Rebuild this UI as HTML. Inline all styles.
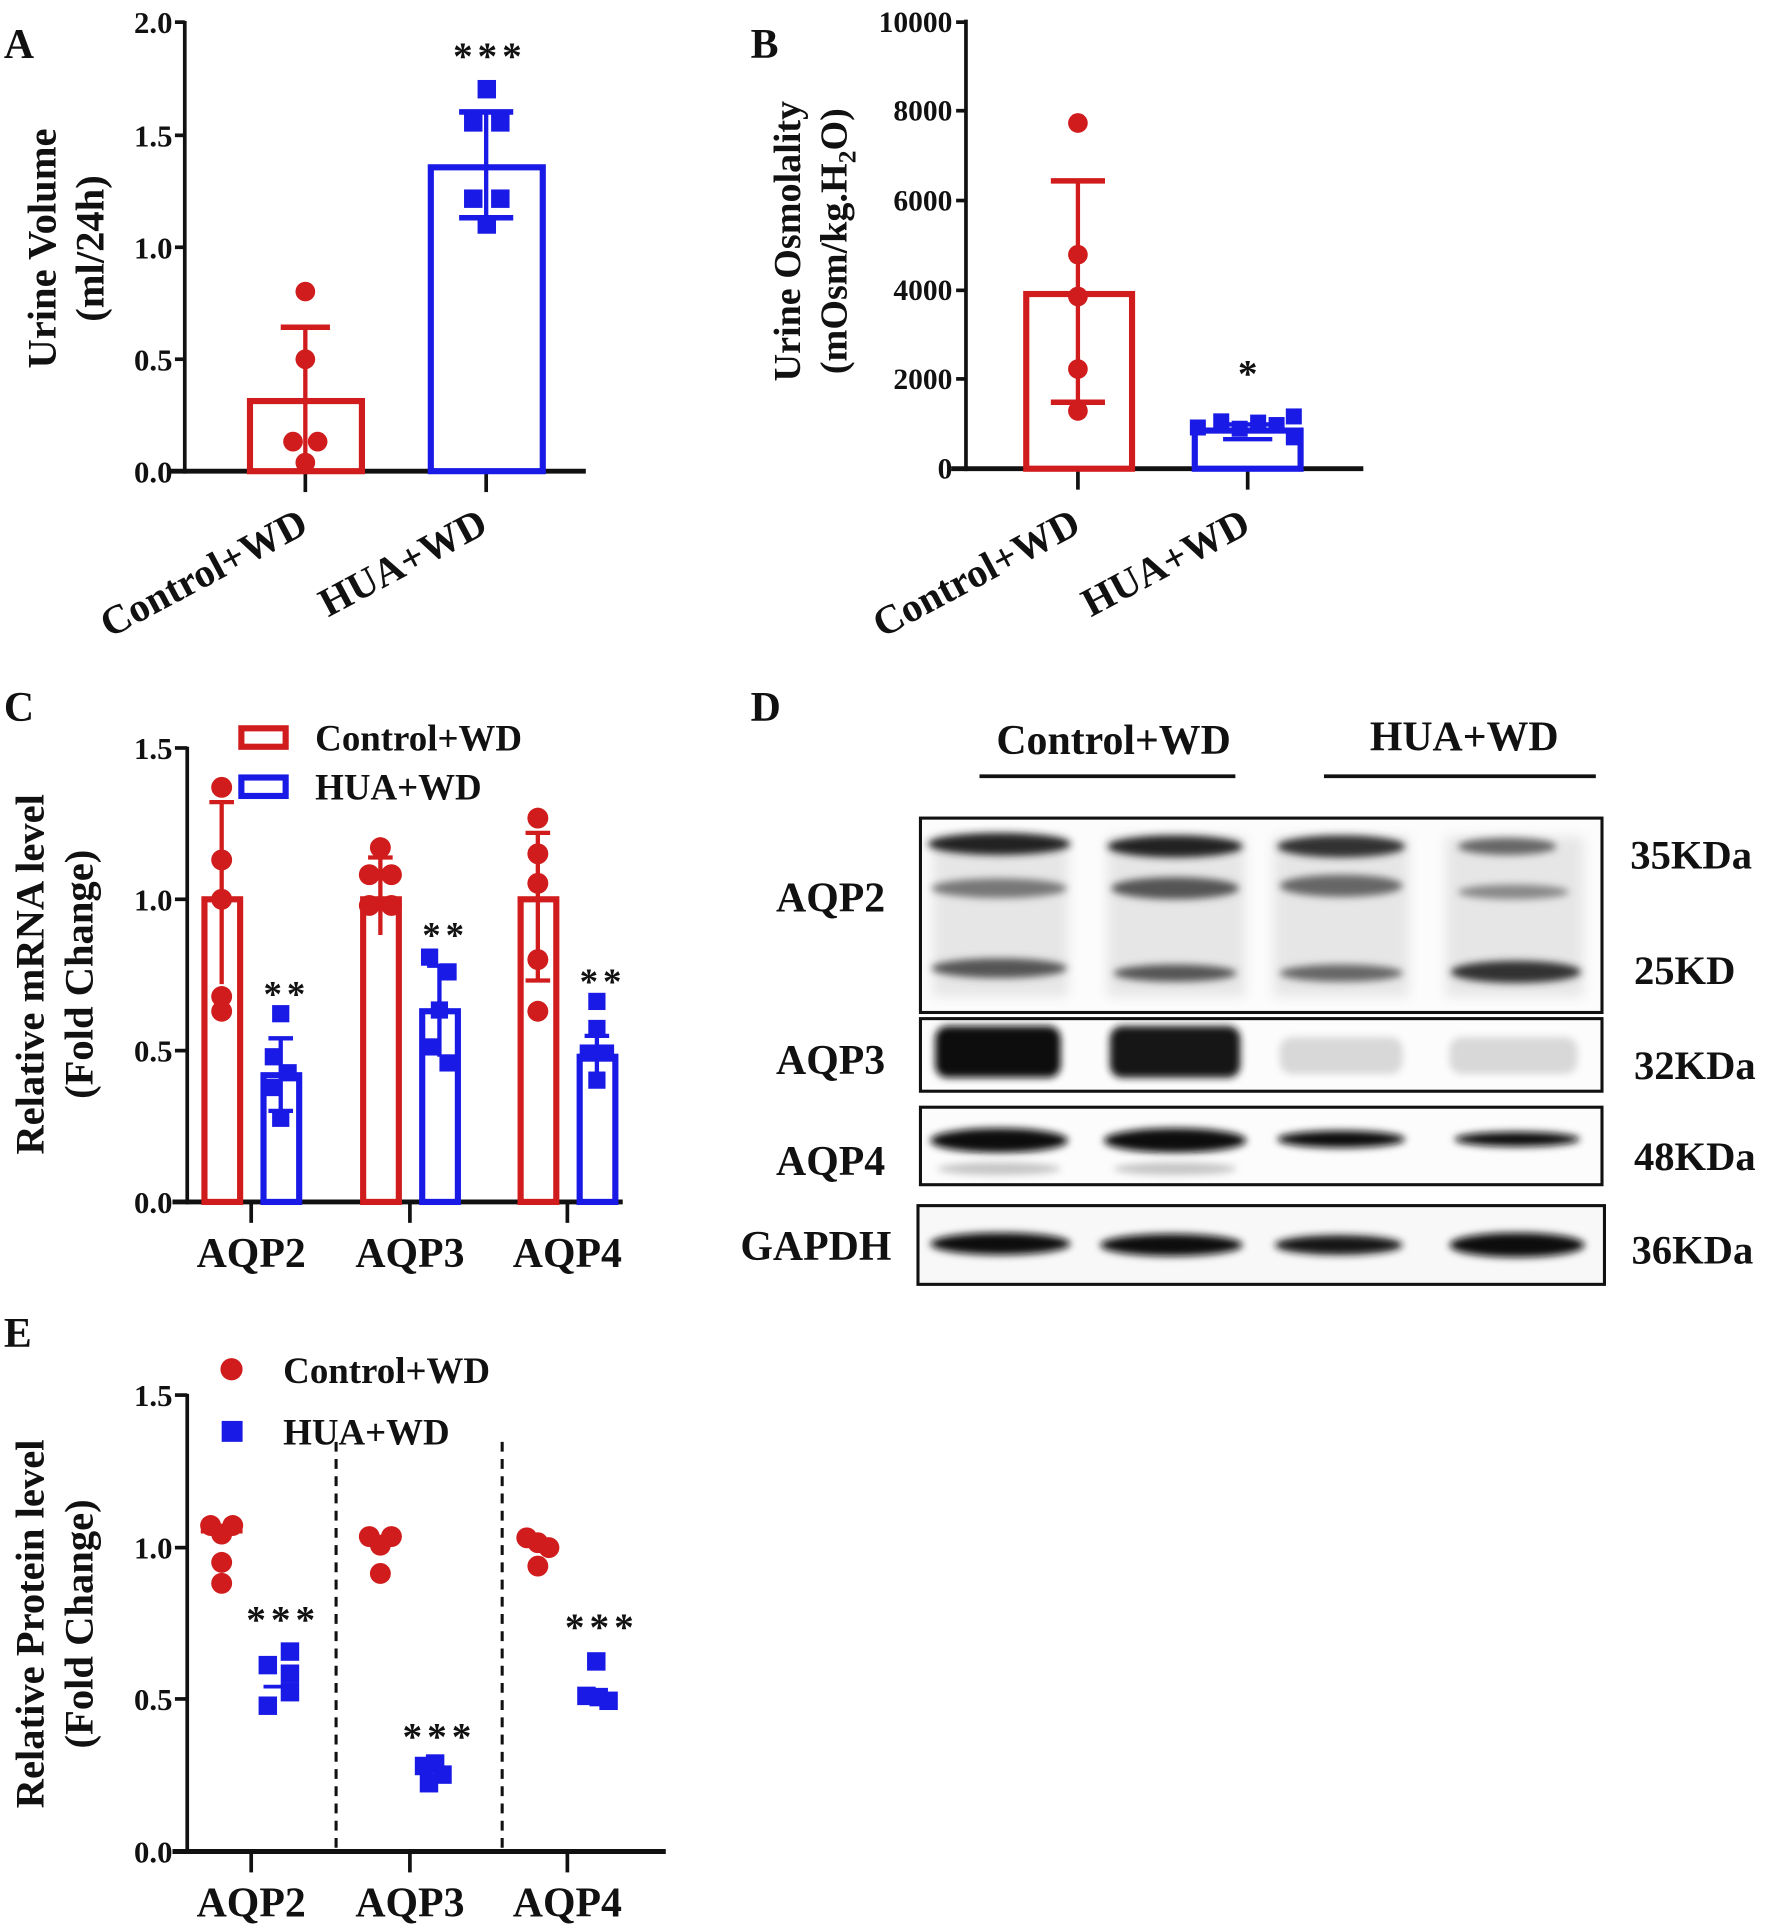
<!DOCTYPE html>
<html><head><meta charset="utf-8"><style>
html,body{margin:0;padding:0;background:#fff;}
svg{display:block;}
text{font-family:"Liberation Serif",serif;font-weight:bold;fill:#111;}
</style></head><body>
<svg width="1772" height="1929" viewBox="0 0 1440 1568" xmlns="http://www.w3.org/2000/svg">
<defs>
<filter id="bl" x="-30%" y="-100%" width="160%" height="300%"><feGaussianBlur stdDeviation="5"/></filter>
<filter id="bl2" x="-30%" y="-100%" width="160%" height="300%"><feGaussianBlur stdDeviation="3"/></filter>
</defs>
<!-- Panel letters -->
<text x="3" y="47" font-size="34">A</text>
<text x="610" y="47" font-size="34">B</text>
<text x="3" y="586" font-size="34">C</text>
<text x="610" y="586" font-size="34">D</text>
<text x="3" y="1095" font-size="34">E</text>

<!-- ===== Panel A ===== -->
<g stroke="#111" stroke-width="3" fill="none">
<line x1="150" y1="17" x2="150" y2="385"/>
<line x1="138" y1="383" x2="476" y2="383" stroke-width="4"/>
<line x1="142" y1="18" x2="150" y2="18"/><line x1="142" y1="110" x2="150" y2="110"/>
<line x1="142" y1="201" x2="150" y2="201"/><line x1="142" y1="292" x2="150" y2="292"/>
<line x1="248" y1="383" x2="248" y2="400"/><line x1="395" y1="383" x2="395" y2="400"/>
</g>
<g font-size="25" text-anchor="end">
<text x="140" y="27">2.0</text><text x="140" y="119">1.5</text><text x="140" y="210">1.0</text><text x="140" y="301">0.5</text><text x="140" y="392">0.0</text>
</g>
<text transform="translate(45,202) rotate(-90)" font-size="33" text-anchor="middle">Urine Volume</text>
<text transform="translate(84,202) rotate(-90)" font-size="33" text-anchor="middle">(ml/24h)</text>
<rect x="203" y="326" width="91" height="57" fill="none" stroke="#d01c1c" stroke-width="5"/>
<g stroke="#d01c1c" stroke-width="3.5"><line x1="248" y1="266" x2="248" y2="383"/><line x1="228" y1="266" x2="268" y2="266" stroke-width="4.5"/></g>
<g fill="#d01c1c"><circle cx="248" cy="237" r="8"/><circle cx="248" cy="292" r="8"/><circle cx="238" cy="359" r="8"/><circle cx="258" cy="359" r="8"/><circle cx="248" cy="376" r="8"/></g>
<rect x="350" y="136" width="91" height="247" fill="none" stroke="#1a1ae6" stroke-width="5"/>
<g stroke="#1a1ae6" stroke-width="3.5"><line x1="395" y1="91" x2="395" y2="177"/><line x1="373" y1="91" x2="417" y2="91" stroke-width="4.5"/><line x1="373" y1="177" x2="417" y2="177" stroke-width="4.5"/></g>
<g fill="#1a1ae6"><rect x="388" y="65" width="15" height="15"/><rect x="377" y="92" width="15" height="15"/><rect x="399" y="92" width="15" height="15"/><rect x="377" y="154" width="15" height="15"/><rect x="399" y="154" width="15" height="15"/><rect x="388" y="175" width="15" height="15"/></g>
<text x="398" y="56" font-size="32" text-anchor="middle" letter-spacing="4">***</text>
<text transform="translate(252,432) rotate(-28)" font-size="33" text-anchor="end">Control+WD</text>
<text transform="translate(398,432) rotate(-28)" font-size="33" text-anchor="end">HUA+WD</text>

<!-- ===== Panel B ===== -->
<g stroke="#111" stroke-width="3" fill="none">
<line x1="785" y1="16" x2="785" y2="383"/>
<line x1="773" y1="381" x2="1108" y2="381" stroke-width="4"/>
<line x1="777" y1="18" x2="785" y2="18"/><line x1="777" y1="90" x2="785" y2="90"/><line x1="777" y1="163" x2="785" y2="163"/><line x1="777" y1="236" x2="785" y2="236"/><line x1="777" y1="308" x2="785" y2="308"/>
<line x1="876" y1="381" x2="876" y2="398"/><line x1="1014" y1="381" x2="1014" y2="398"/>
</g>
<g font-size="24" text-anchor="end">
<text x="774" y="26">10000</text><text x="774" y="98">8000</text><text x="774" y="171">6000</text><text x="774" y="244">4000</text><text x="774" y="316">2000</text><text x="774" y="389">0</text>
</g>
<text transform="translate(650,196) rotate(-90)" font-size="31" text-anchor="middle">Urine Osmolality</text>
<text transform="translate(688,196) rotate(-90)" font-size="31" text-anchor="middle">(mOsm/kg.H<tspan font-size="21" dy="7">2</tspan><tspan dy="-7">O)</tspan></text>
<rect x="834" y="239" width="86" height="142" fill="none" stroke="#d01c1c" stroke-width="5"/>
<g stroke="#d01c1c" stroke-width="3.5"><line x1="876" y1="147" x2="876" y2="327"/><line x1="854" y1="147" x2="898" y2="147" stroke-width="4.5"/><line x1="854" y1="327" x2="898" y2="327" stroke-width="4.5"/></g>
<g fill="#d01c1c"><circle cx="876" cy="100" r="8"/><circle cx="876" cy="207" r="8"/><circle cx="876" cy="241" r="8"/><circle cx="876" cy="300" r="8"/><circle cx="876" cy="334" r="8"/></g>
<rect x="971" y="350" width="86" height="31" fill="none" stroke="#1a1ae6" stroke-width="5"/>
<g stroke="#1a1ae6" stroke-width="3.5"><line x1="994" y1="345" x2="1034" y2="345"/><line x1="994" y1="357" x2="1034" y2="357"/></g>
<g fill="#1a1ae6"><rect x="967" y="341" width="13" height="13"/><rect x="986" y="336" width="13" height="13"/><rect x="1001" y="342" width="13" height="13"/><rect x="1016" y="337" width="13" height="13"/><rect x="1031" y="339" width="13" height="13"/><rect x="1045" y="332" width="13" height="13"/><rect x="1045" y="349" width="13" height="13"/></g>
<text x="1014" y="314" font-size="32" text-anchor="middle">*</text>
<text transform="translate(880,432) rotate(-28)" font-size="33" text-anchor="end">Control+WD</text>
<text transform="translate(1018,432) rotate(-28)" font-size="33" text-anchor="end">HUA+WD</text>

<!-- ===== Panel C ===== -->
<g stroke="#111" stroke-width="3" fill="none">
<line x1="152" y1="607" x2="152" y2="979"/>
<line x1="140" y1="977" x2="506" y2="977" stroke-width="4"/>
<line x1="142" y1="608" x2="152" y2="608"/><line x1="142" y1="731" x2="152" y2="731"/><line x1="142" y1="854" x2="152" y2="854"/>
<line x1="204" y1="977" x2="204" y2="994"/><line x1="333" y1="977" x2="333" y2="994"/><line x1="461" y1="977" x2="461" y2="994"/>
</g>
<g font-size="25" text-anchor="end">
<text x="140" y="617">1.5</text><text x="140" y="740">1.0</text><text x="140" y="863">0.5</text><text x="140" y="986">0.0</text>
</g>
<text transform="translate(35,792) rotate(-90)" font-size="33" text-anchor="middle">Relative mRNA level</text>
<text transform="translate(75,792) rotate(-90)" font-size="33" text-anchor="middle">(Fold Change)</text>
<g font-size="34" text-anchor="middle"><text x="204" y="1030">AQP2</text><text x="333" y="1030">AQP3</text><text x="461" y="1030">AQP4</text></g>
<rect x="196" y="592" width="36" height="15" fill="none" stroke="#d01c1c" stroke-width="5"/>
<text x="256" y="610" font-size="30">Control+WD</text>
<rect x="196" y="632" width="36" height="15" fill="none" stroke="#1a1ae6" stroke-width="5"/>
<text x="256" y="650" font-size="30">HUA+WD</text>
<g fill="none" stroke-width="5">
<rect x="166" y="731" width="29" height="246" stroke="#d01c1c"/>
<rect x="214" y="874" width="29" height="103" stroke="#1a1ae6"/>
<rect x="295" y="731" width="29" height="246" stroke="#d01c1c"/>
<rect x="343" y="822" width="29" height="155" stroke="#1a1ae6"/>
<rect x="423" y="731" width="29" height="246" stroke="#d01c1c"/>
<rect x="471" y="859" width="29" height="118" stroke="#1a1ae6"/>
</g>
<g stroke-width="3.5">
<g stroke="#d01c1c"><line x1="180" y1="652" x2="180" y2="800"/><line x1="170" y1="652" x2="190" y2="652"/><line x1="309" y1="697" x2="309" y2="760"/><line x1="299" y1="697" x2="319" y2="697"/><line x1="437" y1="677" x2="437" y2="797"/><line x1="427" y1="797" x2="447" y2="797"/><line x1="427" y1="677" x2="447" y2="677"/></g>
<g stroke="#1a1ae6"><line x1="228" y1="844" x2="228" y2="903"/><line x1="218" y1="844" x2="238" y2="844"/><line x1="218" y1="903" x2="238" y2="903"/><line x1="357" y1="785" x2="357" y2="859"/><line x1="347" y1="785" x2="367" y2="785"/><line x1="485" y1="842" x2="485" y2="879"/><line x1="475" y1="842" x2="495" y2="842"/></g>
</g>
<g fill="#d01c1c">
<circle cx="180" cy="640" r="8.5"/><circle cx="180" cy="699" r="8.5"/><circle cx="180" cy="731" r="8.5"/><circle cx="180" cy="810" r="8.5"/><circle cx="180" cy="822" r="8.5"/>
<circle cx="309" cy="689" r="8.5"/><circle cx="300" cy="711" r="8.5"/><circle cx="318" cy="711" r="8.5"/><circle cx="300" cy="736" r="8.5"/><circle cx="318" cy="736" r="8.5"/>
<circle cx="437" cy="665" r="8.5"/><circle cx="437" cy="694" r="8.5"/><circle cx="437" cy="718" r="8.5"/><circle cx="437" cy="780" r="8.5"/><circle cx="437" cy="822" r="8.5"/>
</g>
<g fill="#1a1ae6">
<rect x="221" y="817" width="14" height="14"/><rect x="215" y="852" width="14" height="14"/><rect x="227" y="865" width="14" height="14"/><rect x="215" y="877" width="14" height="14"/><rect x="221" y="902" width="14" height="14"/>
<rect x="342" y="771" width="14" height="14"/><rect x="357" y="783" width="14" height="14"/><rect x="350" y="814" width="14" height="14"/><rect x="342" y="844" width="14" height="14"/><rect x="357" y="857" width="14" height="14"/>
<rect x="478" y="807" width="14" height="14"/><rect x="478" y="829" width="14" height="14"/><rect x="471" y="849" width="14" height="14"/><rect x="485" y="849" width="14" height="14"/><rect x="478" y="871" width="14" height="14"/>
</g>
<g font-size="30" text-anchor="middle" letter-spacing="4"><text x="233" y="818">**</text><text x="362" y="770">**</text><text x="490" y="808">**</text></g>

<!-- ===== Panel D (blot) ===== -->
<text x="905" y="613" font-size="34" text-anchor="middle">Control+WD</text>
<line x1="796" y1="631" x2="1004" y2="631" stroke="#111" stroke-width="3"/>
<text x="1190" y="610" font-size="34" text-anchor="middle">HUA+WD</text>
<line x1="1076" y1="631" x2="1297" y2="631" stroke="#111" stroke-width="3"/>
<g font-size="34" text-anchor="middle">
<text x="675" y="741">AQP2</text><text x="675" y="873">AQP3</text><text x="675" y="955">AQP4</text><text x="663" y="1024">GAPDH</text>
</g>
<g font-size="33">
<text x="1325" y="706">35KDa</text><text x="1328" y="800">25KD</text><text x="1328" y="877">32KDa</text><text x="1328" y="951">48KDa</text><text x="1326" y="1027">36KDa</text>
</g>
<!-- AQP2 box -->
<rect x="748" y="665" width="554" height="158" fill="#fcfcfc"/>
<g fill="#e6e6e6" filter="url(#bl)">
<rect x="758" y="680" width="110" height="130"/><rect x="900" y="680" width="112" height="130"/><rect x="1035" y="680" width="110" height="130"/><rect x="1175" y="680" width="112" height="130"/>
</g>
<g filter="url(#bl2)">
<ellipse cx="812" cy="686" rx="58" ry="9" fill="#222"/><ellipse cx="955" cy="688" rx="55" ry="9" fill="#222"/><ellipse cx="1090" cy="688" rx="52" ry="9" fill="#333"/><ellipse cx="1225" cy="688" rx="40" ry="7" fill="#666"/>
<ellipse cx="812" cy="722" rx="55" ry="8" fill="#777"/><ellipse cx="955" cy="722" rx="52" ry="9" fill="#555"/><ellipse cx="1090" cy="720" rx="50" ry="9" fill="#666"/><ellipse cx="1230" cy="725" rx="45" ry="6" fill="#888"/>
<ellipse cx="812" cy="787" rx="55" ry="8" fill="#555"/><ellipse cx="955" cy="791" rx="50" ry="7" fill="#555"/><ellipse cx="1090" cy="791" rx="50" ry="7" fill="#666"/><ellipse cx="1232" cy="790" rx="53" ry="9" fill="#333"/>
</g>
<rect x="748" y="665" width="554" height="158" fill="none" stroke="#111" stroke-width="2.5"/>
<!-- AQP3 -->
<rect x="748" y="828" width="554" height="59" fill="#fcfcfc"/>
<g filter="url(#bl2)">
<rect x="760" y="834" width="102" height="42" rx="10" fill="#111"/><rect x="902" y="834" width="106" height="42" rx="10" fill="#151515"/>
<rect x="1040" y="843" width="100" height="30" rx="10" fill="#d8d8d8"/><rect x="1178" y="843" width="104" height="30" rx="10" fill="#d8d8d8"/>
</g>
<rect x="748" y="828" width="554" height="59" fill="none" stroke="#111" stroke-width="2.5"/>
<!-- AQP4 -->
<rect x="748" y="900" width="554" height="63" fill="#fcfcfc"/>
<g filter="url(#bl2)">
<ellipse cx="812" cy="927" rx="56" ry="10" fill="#0d0d0d"/><ellipse cx="955" cy="927" rx="58" ry="10" fill="#0d0d0d"/><ellipse cx="1090" cy="926" rx="52" ry="7" fill="#111"/><ellipse cx="1233" cy="926" rx="51" ry="6" fill="#111"/>
<ellipse cx="812" cy="950" rx="50" ry="5" fill="#c4c4c4"/><ellipse cx="955" cy="950" rx="50" ry="5" fill="#c4c4c4"/>
</g>
<rect x="748" y="900" width="554" height="63" fill="none" stroke="#111" stroke-width="2.5"/>
<!-- GAPDH -->
<rect x="746" y="980" width="558" height="64" fill="#f8f8f8"/>
<g filter="url(#bl2)">
<ellipse cx="813" cy="1011" rx="57" ry="9" fill="#111"/><ellipse cx="952" cy="1012" rx="58" ry="9" fill="#111"/><ellipse cx="1088" cy="1012" rx="52" ry="8" fill="#151515"/><ellipse cx="1233" cy="1012" rx="55" ry="10" fill="#0d0d0d"/>
</g>
<rect x="746" y="980" width="558" height="64" fill="none" stroke="#111" stroke-width="2.5"/>

<!-- ===== Panel E ===== -->
<g stroke="#111" stroke-width="3" fill="none">
<line x1="152" y1="1133" x2="152" y2="1507"/>
<line x1="140" y1="1505" x2="541" y2="1505" stroke-width="4"/>
<line x1="142" y1="1134" x2="152" y2="1134"/><line x1="142" y1="1258" x2="152" y2="1258"/><line x1="142" y1="1381" x2="152" y2="1381"/>
<line x1="204" y1="1505" x2="204" y2="1522"/><line x1="333" y1="1505" x2="333" y2="1522"/><line x1="461" y1="1505" x2="461" y2="1522"/>
<line x1="273" y1="1172" x2="273" y2="1505" stroke-dasharray="8,6" stroke-width="2.5"/>
<line x1="408" y1="1172" x2="408" y2="1505" stroke-dasharray="8,6" stroke-width="2.5"/>
</g>
<g font-size="25" text-anchor="end">
<text x="140" y="1143">1.5</text><text x="140" y="1267">1.0</text><text x="140" y="1390">0.5</text><text x="140" y="1514">0.0</text>
</g>
<text transform="translate(35,1320) rotate(-90)" font-size="33" text-anchor="middle">Relative Protein level</text>
<text transform="translate(75,1320) rotate(-90)" font-size="33" text-anchor="middle">(Fold Change)</text>
<g font-size="34" text-anchor="middle"><text x="204" y="1558">AQP2</text><text x="333" y="1558">AQP3</text><text x="461" y="1558">AQP4</text></g>
<circle cx="188" cy="1113" r="9" fill="#d01c1c"/>
<text x="230" y="1124" font-size="30">Control+WD</text>
<rect x="180" y="1155" width="17" height="17" fill="#1a1ae6"/>
<text x="230" y="1174" font-size="30">HUA+WD</text>
<g stroke-width="3"><line x1="163" y1="1245" x2="197" y2="1245" stroke="#d01c1c"/><line x1="214" y1="1371" x2="242" y2="1371" stroke="#1a1ae6"/></g>
<g fill="#d01c1c">
<circle cx="171" cy="1240" r="8.5"/><circle cx="189" cy="1240" r="8.5"/><circle cx="180" cy="1247" r="8.5"/><circle cx="180" cy="1270" r="8.5"/><circle cx="180" cy="1287" r="8.5"/>
<circle cx="300" cy="1249" r="8.5"/><circle cx="318" cy="1249" r="8.5"/><circle cx="309" cy="1256" r="8.5"/><circle cx="309" cy="1279" r="8.5"/>
<circle cx="428" cy="1250" r="8.5"/><circle cx="437" cy="1254" r="8.5"/><circle cx="446" cy="1258" r="8.5"/><circle cx="437" cy="1273" r="8.5"/>
</g>
<g fill="#1a1ae6">
<rect x="228" y="1335" width="15" height="15"/><rect x="210" y="1346" width="15" height="15"/><rect x="228" y="1353" width="15" height="15"/><rect x="228" y="1368" width="15" height="15"/><rect x="210" y="1379" width="15" height="15"/>
<rect x="337" y="1428" width="15" height="15"/><rect x="346" y="1426" width="15" height="15"/><rect x="352" y="1435" width="15" height="15"/><rect x="341" y="1442" width="15" height="15"/>
<rect x="477" y="1343" width="15" height="15"/><rect x="469" y="1371" width="15" height="15"/><rect x="479" y="1372" width="15" height="15"/><rect x="487" y="1375" width="15" height="15"/>
</g>
<g font-size="32" text-anchor="middle" letter-spacing="4"><text x="230" y="1327">***</text><text x="357" y="1422">***</text><text x="489" y="1333">***</text></g>
</svg>
</body></html>
